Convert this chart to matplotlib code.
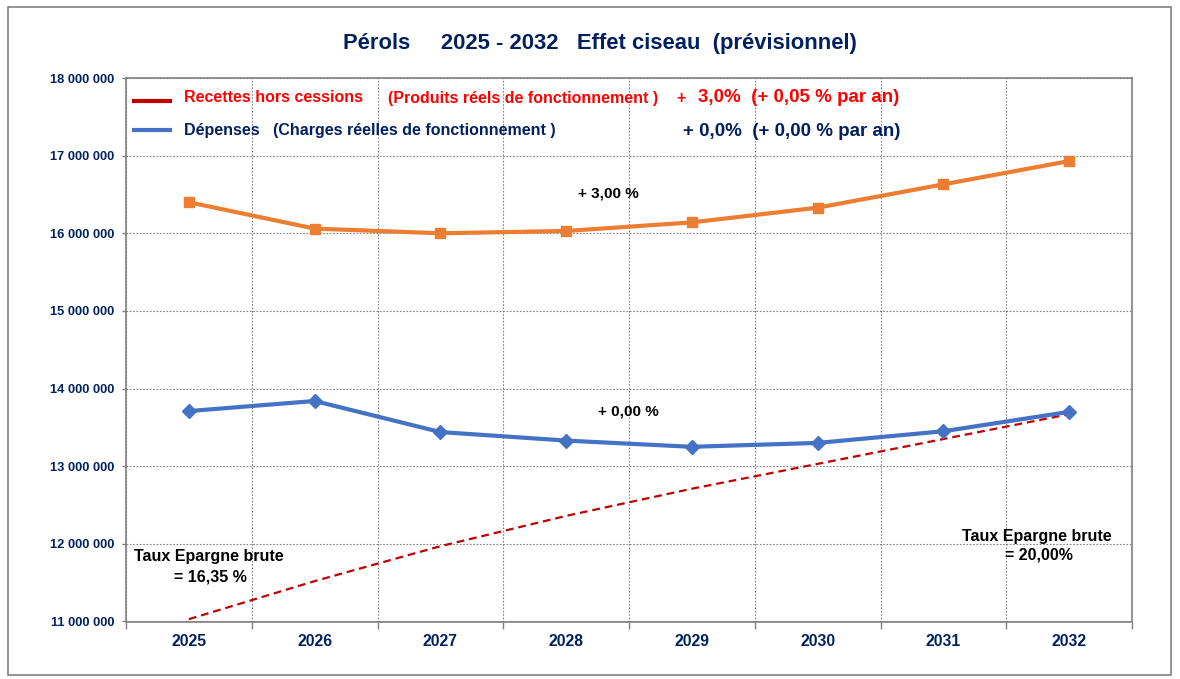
import numpy as np
import matplotlib
matplotlib.use('Agg')
import matplotlib.pyplot as plt
from matplotlib.lines import Line2D
from matplotlib.patches import Rectangle
from matplotlib.ticker import FuncFormatter, MultipleLocator

plt.rcParams['font.family'] = ['Liberation Sans', 'DejaVu Sans']
plt.rcParams['font.weight'] = 'bold'

years = ['2025', '2026', '2027', '2028', '2029', '2030', '2031', '2032']
recettes = [16.40e6, 16.06e6, 16.00e6, 16.03e6, 16.14e6, 16.33e6, 16.63e6, 16.93e6]
depenses = [13.71e6, 13.84e6, 13.44e6, 13.33e6, 13.25e6, 13.30e6, 13.45e6, 13.70e6]
seuil = [11.03e6, 11.52e6, 11.97e6, 12.36e6, 12.71e6, 13.03e6, 13.35e6, 13.67e6]

NAVY = '#002060'
W, H = 1180, 679


def px(x, y):
    # pixel position -> figure fraction
    return x / W, 1 - y / H


fig = plt.figure(figsize=(W / 100, H / 100), dpi=100)
ax = fig.add_axes([126 / W, 1 - 621.5 / H, (1132 - 126) / W, (621.5 - 78) / H])

x = np.arange(len(years))
ax.plot(x, seuil, color='#C00000', lw=1.6, dashes=(3.5, 2.2), zorder=3)
ax.plot(x, recettes, color='#ED7D31', lw=3, marker='s', ms=7.5, zorder=4)
ax.plot(x, depenses, color='#4472C4', lw=3, marker='D', ms=7, zorder=4)

ax.set_xlim(-0.5, len(years) - 0.5)
ax.set_ylim(11e6, 18e6)
ax.yaxis.set_major_locator(MultipleLocator(1e6))
ax.yaxis.set_major_formatter(FuncFormatter(lambda v, p: f'{int(v):,}'.replace(',', ' ')))
ax.set_xticks(x)
ax.set_xticklabels(years)
ax.set_xticks(np.arange(-0.5, len(years)), minor=True)

ax.tick_params(axis='x', which='major', length=0, pad=9, labelsize=11.3, labelcolor=NAVY)
ax.tick_params(axis='x', which='minor', length=5, width=1, color='#808080', direction='out')
ax.tick_params(axis='y', length=3, width=1, color='#808080', direction='out', pad=5.5,
               labelsize=9.3, labelcolor=NAVY)
for lab in ax.get_xticklabels() + ax.get_yticklabels():
    lab.set_fontweight('bold')

ax.grid(axis='y', which='major', color='#808080', ls=(0, (1.5, 1.5)), lw=0.8)
ax.grid(axis='x', which='minor', color='#808080', ls=(0, (1.5, 1.5)), lw=0.8)
for s in ax.spines.values():
    s.set_color('#808080')
    s.set_linewidth(1.2)

# title
fig.text(*px(600, 44), 'Pérols     2025 - 2032   Effet ciseau  (prévisionnel)',
         ha='center', va='center', fontsize=15.8, color=NAVY, fontweight='bold')

# legend, drawn by hand
fig.add_artist(Line2D([134 / W, 170 / W], [1 - 101 / H] * 2, color='#C00000', lw=3,
                      transform=fig.transFigure))
fig.add_artist(Line2D([134 / W, 170 / W], [1 - 130 / H] * 2, color='#4472C4', lw=3,
                      transform=fig.transFigure))
fig.text(*px(184, 98), 'Recettes hors cessions', color='red', fontsize=11.5, va='center')
fig.text(*px(388, 98), '(Produits réels de fonctionnement )', color='red', fontsize=11.5, va='center')
fig.text(*px(676, 98), '+', color='red', fontsize=11.5, va='center')
fig.text(*px(698, 97), '3,0%  (+ 0,05 % par an)', color='red', fontsize=13.5, va='center')
fig.text(*px(184, 131), 'Dépenses   (Charges réelles de fonctionnement )', color=NAVY,
         fontsize=11.5, va='center')
fig.text(*px(683, 131), '+ 0,0%  (+ 0,00 % par an)', color=NAVY, fontsize=13.5, va='center')

# notes
fig.text(*px(608, 193), '+ 3,00 %', ha='center', va='center', fontsize=11)
fig.text(*px(628, 411), '+ 0,00 %', ha='center', va='center', fontsize=11)
fig.text(*px(209, 557), 'Taux Epargne brute', ha='center', va='center', fontsize=11.5)
fig.text(*px(210, 577), '= 16,35 %', ha='center', va='center', fontsize=11.5)
fig.text(*px(1037, 536), 'Taux Epargne brute', ha='center', va='center', fontsize=11.5)
fig.text(*px(1039, 555), '= 20,00%', ha='center', va='center', fontsize=11.5)

# outer frame
fig.add_artist(Rectangle((8 / W, 1 - 675 / H), 1163 / W, 668 / H, fill=False,
                         edgecolor='#808080', lw=1.2, transform=fig.transFigure))

fig.savefig('out.png', dpi=100)
